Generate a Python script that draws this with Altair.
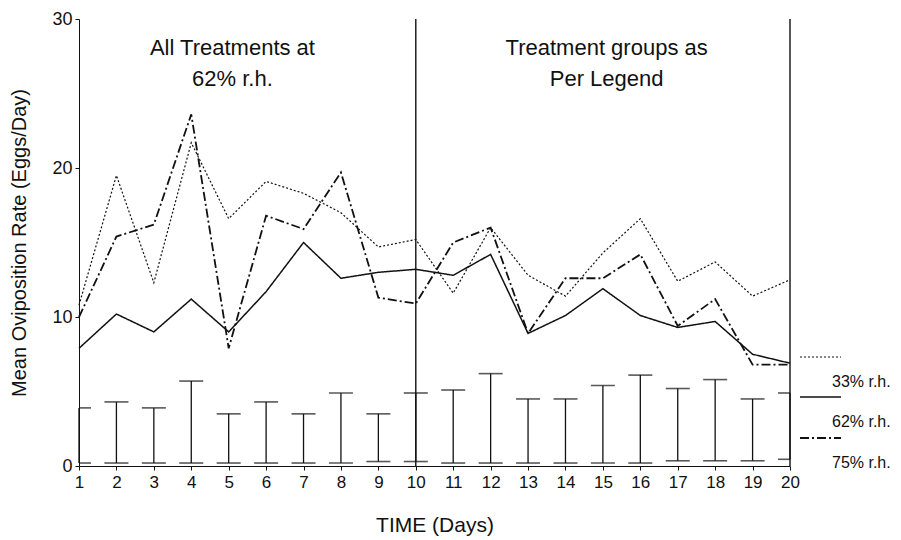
import altair as alt
import pandas as pd

days = [1, 2, 3, 4, 5, 6, 7, 8, 9, 10, 11, 12, 13, 14, 15, 16, 17, 18, 19, 20]
rh33 = [10.8, 19.5, 12.3, 21.7, 16.6, 19.1, 18.3, 17.0, 14.7, 15.2,
        11.6, 16.0, 12.8, 11.4, 14.3, 16.6, 12.4, 13.7, 11.4, 12.5]
rh62 = [7.9, 10.2, 9.0, 11.2, 9.0, 11.7, 15.0, 12.6, 13.0, 13.2,
        12.8, 14.2, 8.9, 10.1, 11.9, 10.1, 9.3, 9.7, 7.5, 6.9]
rh75 = [10.0, 15.4, 16.2, 23.6, 7.9, 16.8, 15.9, 19.7, 11.3, 10.9,
        15.0, 16.0, 8.9, 12.6, 12.6, 14.2, 9.4, 11.2, 6.8, 6.8]
err_hi = [3.9, 4.3, 3.9, 5.7, 3.5, 4.3, 3.5, 4.9, 3.5, 4.9,
          5.1, 6.2, 4.5, 4.5, 5.4, 6.1, 5.2, 5.8, 4.5, 4.9]
err_lo = [0.2, 0.2, 0.2, 0.2, 0.2, 0.2, 0.2, 0.2, 0.3, 0.3,
          0.2, 0.2, 0.2, 0.2, 0.2, 0.2, 0.35, 0.35, 0.35, 0.45]
series_names = ["33% r.h.", "62% r.h.", "75% r.h."]
phase_bounds = [10, 20]
ann_text = ["All Treatments at", "62% r.h.", "Treatment groups as", "Per Legend"]
ann_day = [5.1, 5.1, 15.1, 15.1]
ann_val = [28.05, 26.0, 28.05, 26.0]

INK = "#111111"
FONT = "Liberation Sans"

rows = []
for name, vals in zip(series_names, [rh33, rh62, rh75]):
    for d, v in zip(days, vals):
        rows.append({"day": d, "rate": v, "series": name})
lines_df = pd.DataFrame(rows)
err_df = pd.DataFrame({"day": days, "lo": err_lo, "hi": err_hi})
sep_df = pd.DataFrame({"day": phase_bounds})
ann_df = pd.DataFrame({"day": ann_day, "rate": ann_val, "text": ann_text})

xscale = alt.Scale(domain=[1, 20], nice=False, zero=False)
yscale = alt.Scale(domain=[0, 30], nice=False, zero=True)

xaxis = alt.Axis(values=days, format="d", title="TIME (Days)", grid=False,
                 tickSize=4, labelPadding=4, labelFontSize=17, titleFontSize=21,
                 titleFontWeight="normal", titlePadding=24, labelFont=FONT,
                 titleFont=FONT, labelColor=INK, titleColor=INK,
                 domainColor=INK, tickColor=INK, labelFlush=False,
                 labelOverlap=False)
yaxis = alt.Axis(values=[0, 10, 20, 30], title="Mean Oviposition Rate (Eggs/Day)",
                 grid=False, tickSize=4, labelPadding=3, labelFontSize=18,
                 titleFontSize=20, titleFontWeight="normal", titlePadding=22,
                 labelFont=FONT, titleFont=FONT, labelColor=INK, titleColor=INK,
                 domainColor=INK, tickColor=INK, labelFlush=False,
                 labelOverlap=False)


def X():
    return alt.X("day:Q", scale=xscale, axis=xaxis)


def Y(field):
    return alt.Y(field, scale=yscale, axis=yaxis)


err_rule = alt.Chart(err_df).mark_rule(color=INK, strokeWidth=1.3).encode(
    x=X(), y=Y("lo:Q"), y2="hi:Q",
)
cap_hi = alt.Chart(err_df).mark_tick(color=INK, orient="horizontal", size=24,
                                     thickness=1.6, clip=True).encode(
    x=X(), y=Y("hi:Q"))
cap_lo = alt.Chart(err_df).mark_tick(color=INK, orient="horizontal", size=24,
                                     thickness=1.6, clip=True).encode(
    x=X(), y=Y("lo:Q"))

sep = alt.Chart(sep_df).mark_rule(color=INK, strokeWidth=1.4).encode(x=X())

lines = alt.Chart(lines_df).mark_line(color=INK).encode(
    x=X(),
    y=Y("rate:Q"),
    strokeDash=alt.StrokeDash(
        "series:N",
        scale=alt.Scale(domain=series_names,
                        range=[[2, 2], [1, 0], [9, 3, 2, 3]]),
        legend=alt.Legend(title=None, orient="none", legendX=711, legendY=342,
                          symbolType="M-0.55,-1.25H1.5", symbolSize=1600,
                          symbolStrokeColor=INK, symbolStrokeWidth=1.4,
                          labelOffset=0, labelFontSize=16, labelFont=FONT,
                          labelColor=INK, rowPadding=4, padding=0,
                          labelBaseline="middle"),
    ),
    strokeWidth=alt.StrokeWidth("series:N",
                                scale=alt.Scale(domain=series_names,
                                                range=[1.2, 1.8, 1.4]),
                                legend=None),
)

ann = alt.Chart(ann_df).mark_text(color=INK, fontSize=22, font=FONT,
                                  baseline="middle", align="center").encode(
    x=X(), y=Y("rate:Q"), text="text:N",
)

chart = alt.layer(err_rule, cap_hi, cap_lo, sep, lines, ann).properties(
    width=711, height=447,
    autosize=alt.AutoSizeParams(type="none"),
    padding={"left": 71, "top": 11, "right": 103, "bottom": 70},
    background="white",
).configure_view(stroke=None)

chart.save("out.html", embed_options={"renderer": "svg", "actions": False})
